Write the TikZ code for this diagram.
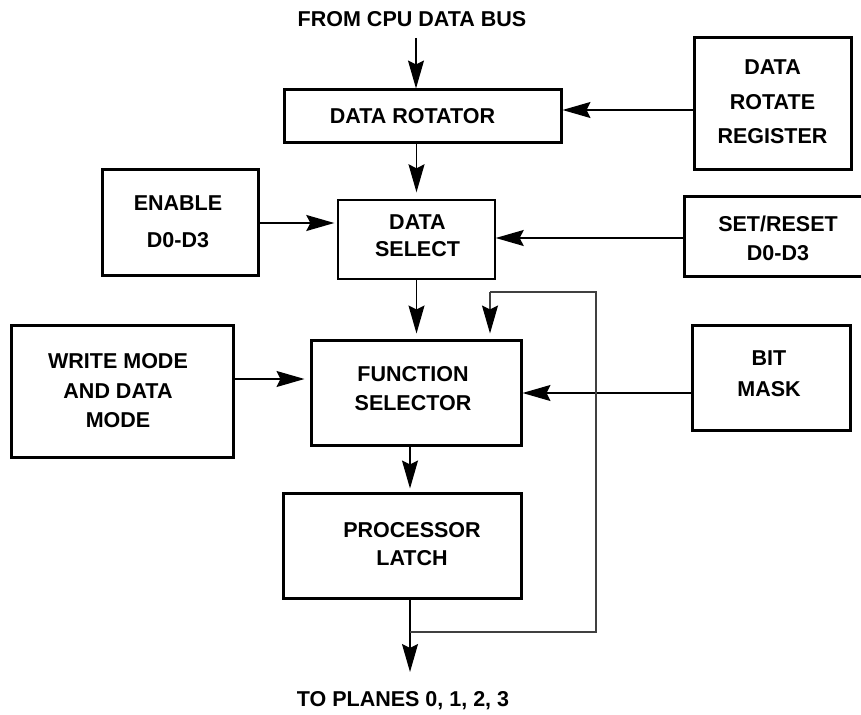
\documentclass[tikz,border=0pt]{standalone}
\usepackage{fontspec}
\setmainfont{Liberation Sans}
\usetikzlibrary{arrows.meta}
\tikzset{
  boxnode/.style={draw=black, line width=3pt, rectangle, inner sep=0pt},
  thinbox/.style={boxnode, line width=1.4pt},
  tx/.style={align=center, inner sep=0pt, font=\fontsize{21.5}{29}\selectfont\bfseries},
  lbl/.style={font=\fontsize{21.5}{25}\selectfont\bfseries, inner sep=0pt},
  tip/.style={-{Stealth[length=28pt,width=16pt,inset=4pt,color=black]}},
  arr/.style={line width=1.4pt, tip},
  fb/.style={line width=1.4pt, draw=black!75},
  edge/.style={line width=3pt}
}
\begin{document}
\begin{tikzpicture}[x=1pt,y=-1pt]
\useasboundingbox[fill=white] (0,0) rectangle (861,714);
% nodes
\node[lbl] (src) at (412,19) {FROM CPU DATA BUS};
\node[boxnode, minimum width=277pt, minimum height=53pt,
  label={[tx, xshift=-10pt]center:{DATA ROTATOR}}] (rot) at (422.5,116.5) {};
\node[boxnode, minimum width=157pt, minimum height=132pt,
  label={[tx, yshift=2pt, font=\fontsize{21.5}{34.5}\selectfont\bfseries]center:{DATA\\ROTATE\\REGISTER}}] (reg) at (772.5,104) {};
\node[boxnode, minimum width=156pt, minimum height=105pt,
  label={[tx, yshift=1pt, xshift=-2pt, font=\fontsize{21.5}{37}\selectfont\bfseries]center:{ENABLE\\D0-D3}}] (en) at (180,222.5) {};
\node[thinbox, minimum width=157pt, minimum height=79pt,
  label={[tx, yshift=4pt, xshift=1pt, font=\fontsize{21.5}{27}\selectfont\bfseries]center:{DATA\\SELECT}}] (ds) at (416.5,239.5) {};
\node[minimum width=186pt, minimum height=80pt, inner sep=0pt,
  label={[tx, yshift=-2pt]center:{SET/RESET\\D0-D3}}] (sr) at (778,236) {};
\node[boxnode, minimum width=222pt, minimum height=132pt,
  label={[tx, xshift=-4pt, font=\fontsize{21.5}{29.5}\selectfont\bfseries]center:{WRITE MODE\\AND DATA\\MODE}}] (wm) at (122,391) {};
\node[boxnode, minimum width=210pt, minimum height=105pt,
  label={[tx, yshift=4pt, xshift=-3pt]center:{FUNCTION\\SELECTOR}}] (fs) at (416,392.5) {};
\node[boxnode, minimum width=158pt, minimum height=105pt,
  label={[tx, yshift=4pt, xshift=-2pt, font=\fontsize{21.5}{31}\selectfont\bfseries]center:{BIT\\MASK}}] (bm) at (771,377.5) {};
\node[boxnode, minimum width=238pt, minimum height=105pt,
  label={[tx, yshift=1pt, xshift=10pt, font=\fontsize{21.5}{28}\selectfont\bfseries]center:{PROCESSOR\\LATCH}}] (pl) at (402,545.5) {};
\node[lbl] (dst) at (403,701) {TO PLANES 0, 1, 2, 3};
% open-ended border of SET/RESET box (runs off the right edge)
\coordinate (srTR) at (861,196);
\coordinate (srBR) at (861,276);
\draw[edge] (srTR) -- (srTR -| sr.west) -- (srBR -| sr.west) -- (srBR);
% coordinates
\coordinate (in) at (416,38);
\coordinate (out) at (410,672);
\coordinate (fbA) at (410,632);
\coordinate (fbB) at (596,292);
\coordinate (fbC) at (490,292);
% connectors
\draw[arr] (in) -- (in |- rot.north);
\draw[arr, shorten >=7pt] (ds.north |- rot.south) -- (ds.north);
\draw[arr] (reg.west |- 0,110) -- (rot.east |- 0,110);
\draw[arr, shorten >=3pt] (en.east |- 0,223) -- (ds.west |- 0,223);
\draw[arr] (sr.west |- 0,238) -- (ds.east |- 0,238);
\draw[arr, shorten >=5pt] (ds.south) -- (ds.south |- fs.north);
\draw[arr, shorten >=5pt] (wm.east |- 0,379) -- (fs.west |- 0,379);
\draw[arr] (bm.west |- 0,393) -- (fs.east |- 0,393);
\draw[arr, shorten >=3pt] (fs.south -| out) -- (pl.north -| out);
\draw[arr] (pl.south -| out) -- (out);
\draw[fb] (fbA) -| (fbB) -- (fbC);
\draw[fb, tip, shorten >=5pt] (fbC) -- (fs.north -| fbC);
\end{tikzpicture}
\end{document}
